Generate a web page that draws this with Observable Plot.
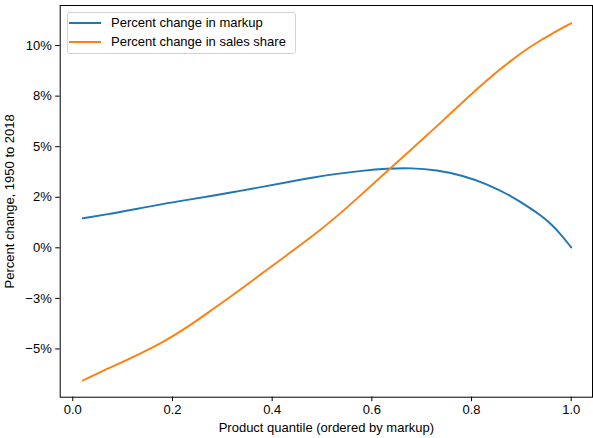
<!DOCTYPE html>
<html>
<head>
<meta charset="utf-8">
<script src="https://cdn.jsdelivr.net/npm/d3@7"></script>
<script src="https://cdn.jsdelivr.net/npm/@observablehq/plot@0.6"></script>
<style>
  body { margin: 0; background: #fff; }
  #wrap { position: relative; width: 593px; height: 438px; font-family: "Liberation Sans", Arial, sans-serif; }
  #legend { position: absolute; left: 66.5px; top: 11.5px; width: 227px; height: 40px;
    border: 1px solid #d3d3d3; border-radius: 3px; background: rgba(255,255,255,0.8); }
  .row { position: absolute; left: 0; height: 19px; display: flex; align-items: center; font-size: 13px; color: #000; white-space: nowrap; }
  .sw { display: inline-block; width: 32px; height: 2px; margin-left: 1.5px; margin-right: 10px; }
</style>
</head>
<body>
<div id="wrap"></div>
<script>
const quantile = [0.02, 0.08, 0.13, 0.18, 0.23, 0.28, 0.33, 0.38, 0.43, 0.48, 0.53, 0.58, 0.63, 0.68, 0.73, 0.78, 0.83, 0.88, 0.92, 0.94, 0.96, 0.98, 1.0];
const markupChange = [1.46, 1.70, 1.93, 2.17, 2.37, 2.57, 2.79, 3.01, 3.24, 3.47, 3.66, 3.81, 3.92, 3.95, 3.85, 3.59, 3.17, 2.56, 1.93, 1.58, 1.17, 0.64, 0.02];
const salesShareChange = [-6.56, -5.86, -5.30, -4.68, -3.93, -3.05, -2.18, -1.25, -0.35, 0.55, 1.55, 2.65, 3.78, 4.88, 6.0, 7.15, 8.28, 9.28, 9.98, 10.28, 10.56, 10.84, 11.1];
const seriesNames = ["Percent change in markup", "Percent change in sales share"];
const seriesColors = ["#1f77b4", "#ff7f0e"];
const xTicks = [0, 0.2, 0.4, 0.6, 0.8, 1.0];
const yTicks = [-5, -2.5, 0, 2.5, 5, 7.5, 10];
const yTickLabels = ["\u22125%", "\u22123%", "0%", "2%", "5%", "8%", "10%"];

const rows = [];
quantile.forEach((q, i) => {
  rows.push({q, v: markupChange[i], s: seriesNames[0]});
});
quantile.forEach((q, i) => {
  rows.push({q, v: salesShareChange[i], s: seriesNames[1]});
});

const chart = Plot.plot({
  width: 593,
  height: 438,
  marginLeft: 59.7,
  marginRight: 1,
  marginTop: 5,
  marginBottom: 41.3,
  style: { fontFamily: "'Liberation Sans', Arial, sans-serif", fontSize: "13px", color: "#000", background: "#fff" },
  x: { domain: [-0.0253, 1.0427] },
  y: { domain: [-7.385, 11.98] },
  color: { domain: seriesNames, range: seriesColors },
  marks: [
    Plot.line(rows, { x: "q", y: "v", stroke: "s", z: "s", strokeWidth: 1.9, curve: "basis" }),
    Plot.frame({ stroke: "#000", strokeWidth: 1 }),
    Plot.axisX({ ticks: xTicks, tickFormat: d3.format(".1f"), tickSize: 4.5, tickPadding: 3, stroke: "#000",
      label: "Product quantile (ordered by markup)", labelAnchor: "center", labelOffset: 35, labelArrow: "none" }),
    Plot.axisY({ ticks: yTicks, tickFormat: (d) => yTickLabels[yTicks.indexOf(d)], tickSize: 4.5, tickPadding: 4, stroke: "#000",
      label: "Percent change, 1950 to 2018", labelAnchor: "center", labelOffset: 55, labelArrow: "none" })
  ]
});

const wrap = document.getElementById("wrap");
wrap.appendChild(chart);

const legend = document.createElement("div");
legend.id = "legend";
seriesNames.forEach((name, i) => {
  const row = document.createElement("div");
  row.className = "row";
  row.style.top = (i === 0 ? 0.5 : 19.5) + "px";
  const sw = document.createElement("span");
  sw.className = "sw";
  sw.style.background = seriesColors[i];
  const t = document.createElement("span");
  t.textContent = name;
  row.appendChild(sw);
  row.appendChild(t);
  legend.appendChild(row);
});
wrap.appendChild(legend);
</script>
</body>
</html>
